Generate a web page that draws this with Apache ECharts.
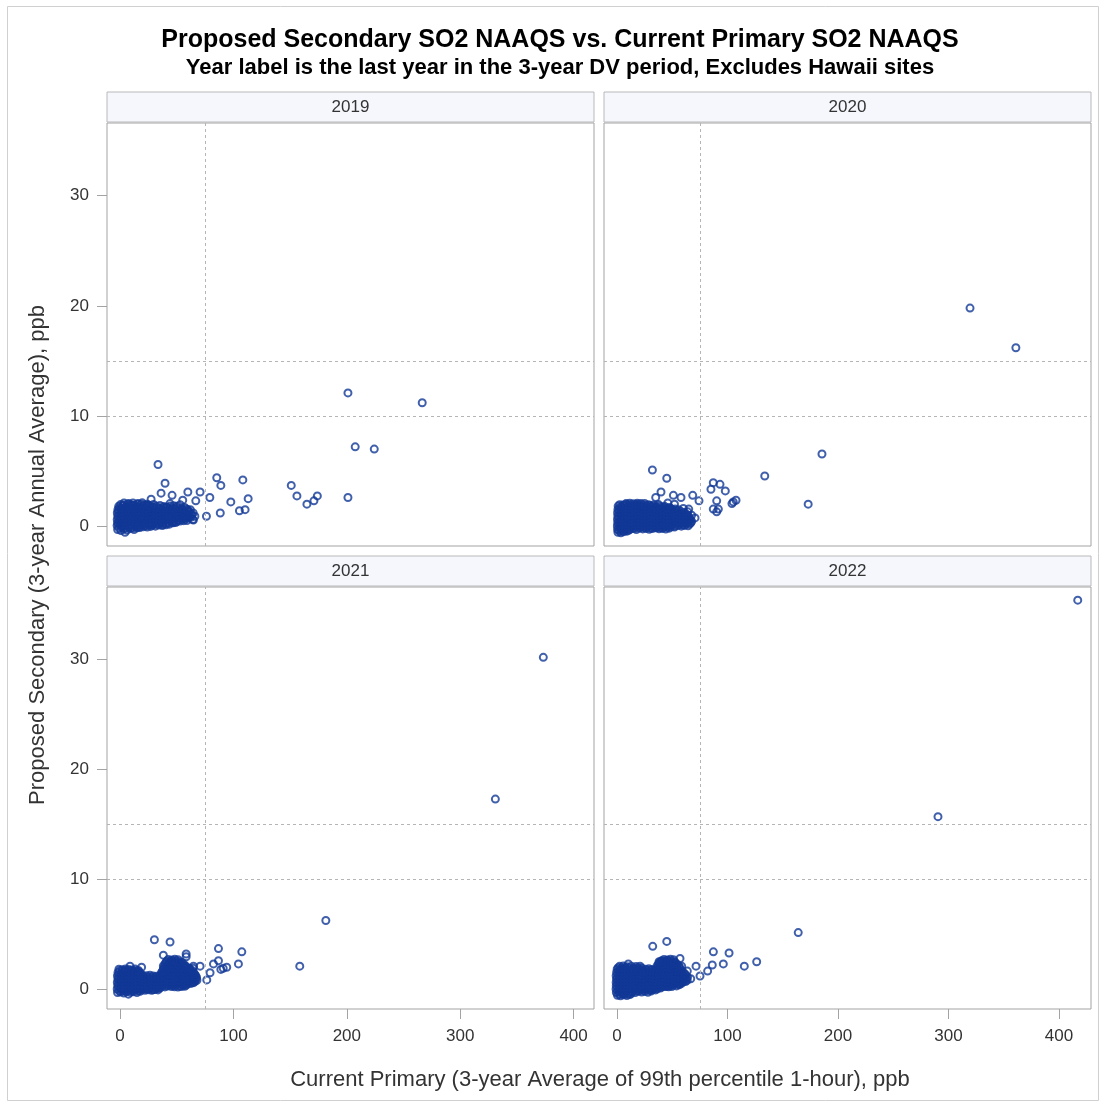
<!DOCTYPE html>
<html>
<head>
<meta charset="utf-8">
<script src="https://cdn.jsdelivr.net/npm/echarts@6/dist/echarts.min.js"></script>
<style>html,body{margin:0;padding:0;background:#fff}#chart{width:1106px;height:1108px}</style>
</head>
<body>
<div id="chart"></div>
<script>
var years = ['2019', '2020', '2021', '2022'];
var yTicks = [0, 10, 20, 30];
var xTicks = [0, 100, 200, 300, 400];
var refX = 75;
var refY = [10, 15];

var cluster2019 = [
[-2.1,-0.3],[0.8,-0.4],[3.2,-0.25],[6.1,-0.35],[9.3,-0.2],[12.4,-0.3],[15.2,-0.15],[4.4,-0.55],
[-2.6,0.05],[0.2,0.1],[2.7,-0.05],[5.4,0.05],[8.2,0],[11.1,0.1],[13.9,0.05],[16.8,-0.02],[19.7,0.1],[22.6,0.04],[25.5,0.12],[28.3,0.08],[31.2,0],[34.1,0.1],[37.3,0.05],
[-2.2,0.3],[1.1,0.36],[4.0,0.26],[7.2,0.31],[10.1,0.37],[13.3,0.28],[16.2,0.24],[19.1,0.33],[22.2,0.36],[25.3,0.29],[28.1,0.25],[31.0,0.32],[34.2,0.37],[37.1,0.3],[40.2,0.24],[43.1,0.31],[46.3,0.36],[49.0,0.33],
[-2.5,0.6],[0.6,0.66],[3.6,0.55],[6.4,0.62],[9.6,0.66],[12.5,0.58],[15.4,0.54],[18.6,0.63],[21.5,0.67],[24.4,0.6],[27.6,0.56],[30.5,0.62],[33.4,0.66],[36.6,0.59],[39.5,0.54],[42.4,0.61],[45.6,0.66],[48.5,0.6],[51.4,0.55],[54.6,0.62],[57.5,0.66],[60.2,0.72],
[-2.0,0.9],[1.2,0.95],[4.1,0.86],[7.3,0.92],[10.2,0.97],[13.1,0.88],[16.3,0.84],[19.2,0.93],[22.1,0.96],[25.2,0.9],[28.3,0.85],[31.1,0.92],[34.0,0.97],[37.2,0.89],[40.1,0.85],[43.3,0.92],[46.2,0.96],[49.1,0.9],[52.3,0.86],[55.2,0.93],[58.1,0.97],[61.3,0.9],
[-2.4,1.2],[0.7,1.25],[3.5,1.16],[6.6,1.22],[9.5,1.27],[12.6,1.18],[15.5,1.14],[18.4,1.23],[21.6,1.26],[24.5,1.2],[27.4,1.15],[30.6,1.22],[33.5,1.27],[36.4,1.19],[39.6,1.15],[42.5,1.22],[45.4,1.26],[48.6,1.2],[51.5,1.16],[54.4,1.23],[57.6,1.27],[61.0,1.3],
[-1.9,1.5],[1.0,1.55],[4.2,1.46],[7.1,1.52],[10.3,1.57],[13.2,1.48],[16.1,1.44],[19.3,1.53],[22.3,1.56],[25.1,1.5],[28.2,1.45],[31.3,1.52],[34.3,1.57],[37.0,1.49],[40.3,1.45],[43.2,1.52],[46.1,1.56],[49.3,1.5],[52.2,1.46],[55.1,1.53],[58.3,1.57],
[-1.2,1.8],[2.0,1.85],[5.1,1.76],[8.3,1.82],[11.2,1.87],[14.0,1.78],[17.3,1.74],[20.2,1.83],[23.1,1.86],[26.3,1.8],[29.2,1.75],[32.1,1.82],[35.3,1.87],[38.2,1.79],[41.1,1.75],[44.3,1.82],[47.2,1.86],[50.1,1.8],
[3.5,2.1],[7.6,2.05],[11.4,2.1],[15.8,2.06],[19.6,2.12],[24,2.0],[44,2.05],[53,1.95],[57,1.7],[62,1.5],[64.5,1.2],[66,0.9]
];
var fill2019 = [
[-1.0,-0.15],[2.0,-0.12],[5.0,-0.18],[8.0,-0.1],[11.0,-0.15],[14.0,-0.08],[17.5,-0.12],[20.5,-0.05],[24.0,-0.08],[27.0,-0.02],
[-1.2,0.18],[1.8,0.14],[4.7,0.2],[7.7,0.15],[10.6,0.12],[13.7,0.19],[16.6,0.16],[19.6,0.12],[22.6,0.2],[25.7,0.16],[28.6,0.13],[31.6,0.18],[34.6,0.22],[37.7,0.15],[40.6,0.12],[43.6,0.18],
[-1.0,0.45],[2.1,0.48],[5.0,0.42],[8.0,0.47],[11.1,0.44],[14.0,0.4],[17.0,0.46],[20.0,0.5],[23.0,0.43],[26.1,0.4],[29.0,0.47],[32.0,0.5],[35.1,0.44],[38.0,0.4],[41.0,0.46],[44.1,0.49],[47.0,0.43],[50.1,0.42],[53.0,0.47],[56.1,0.5],[59.0,0.52],
[-1.1,0.76],[1.9,0.73],[4.9,0.79],[7.9,0.75],[10.9,0.71],[13.9,0.78],[16.9,0.8],[19.9,0.73],[22.9,0.7],[25.9,0.77],[28.9,0.8],[31.9,0.74],[34.9,0.71],[37.9,0.78],[40.9,0.8],[43.9,0.73],[46.9,0.7],[49.9,0.77],[52.9,0.8],[55.9,0.74],[58.9,0.78],[62.5,0.8],
[-0.9,1.06],[2.2,1.03],[5.2,1.09],[8.2,1.05],[11.2,1.01],[14.2,1.08],[17.2,1.1],[20.2,1.03],[23.2,1.0],[26.2,1.07],[29.2,1.1],[32.2,1.04],[35.2,1.01],[38.2,1.08],[41.2,1.1],[44.2,1.03],[47.2,1.0],[50.2,1.07],[53.2,1.1],[56.2,1.04],[59.2,1.08],[62.8,1.1],
[-1.2,1.36],[1.8,1.33],[4.8,1.39],[7.8,1.35],[10.8,1.31],[13.8,1.38],[16.8,1.4],[19.8,1.33],[22.8,1.3],[25.8,1.37],[28.8,1.4],[31.8,1.34],[34.8,1.31],[37.8,1.38],[40.8,1.4],[43.8,1.33],[46.8,1.3],[49.8,1.37],[52.8,1.4],[55.8,1.34],[59.5,1.38],
[-0.6,1.66],[2.5,1.63],[5.5,1.69],[8.5,1.65],[11.5,1.61],[14.5,1.68],[17.5,1.7],[20.5,1.63],[23.5,1.6],[26.5,1.67],[29.5,1.7],[32.5,1.64],[35.5,1.61],[38.5,1.68],[41.5,1.7],[44.5,1.63],[47.5,1.6],[50.5,1.67],[53.5,1.62],
[0.5,1.96],[3.8,1.93],[6.8,1.99],[9.8,1.95],[12.8,1.91],[15.8,1.98],[18.8,2.0],[21.8,1.93],[25.5,1.9],[29.5,1.97]
];
var outliers2019 = [
[33.5,5.6],[39.7,3.9],[36.2,3.0],[45.9,2.8],[59.8,3.1],[70.6,3.1],[66.8,2.3],[79.2,2.6],[85.3,4.4],[88.9,3.7],
[108.3,4.2],[97.7,2.2],[113,2.5],[105.3,1.4],[110.3,1.5],[88.4,1.2],[76.2,0.9],[64.2,0.6],[151,3.7],[156,2.75],
[164.8,2.0],[171,2.3],[174,2.75],[201,2.6],[207.4,7.2],[224.2,7.0],[201,12.1],[266.5,11.2],[27.4,2.45],[55.3,2.36],
[59.8,1.5],[64.7,0.55],[47,0.3],[63.3,1.0]
];

var cluster2020 = [
[0.8,-0.55],[3.5,-0.6],[6.2,-0.5],[9.0,-0.45],
[0.5,-0.3],[3.2,-0.25],[6.0,-0.32],[8.9,-0.2],[11.8,-0.28],[14.6,-0.22],[17.5,-0.3],[20.4,-0.18],[23.3,-0.25],[26.2,-0.2],[29.1,-0.28],[32.0,-0.22],[35.1,-0.15],[38.0,-0.24],[41.2,-0.2],[44.1,-0.26],[47.3,-0.18],
[0.3,0.02],[3.1,0.06],[5.9,-0.02],[8.8,0.08],[11.6,0.03],[14.5,0.07],[17.3,-0.01],[20.2,0.05],[23.1,0.09],[26.0,0.02],[28.9,0.06],[31.8,0.0],[34.7,0.08],[37.6,0.03],[40.5,0.07],[43.4,0.01],[46.3,0.05],[49.2,0.09],[52.1,0.02],[55.0,0.06],[58.2,0.0],[61.1,0.07],[64.3,0.04],
[0.6,0.32],[3.4,0.28],[6.3,0.35],[9.1,0.3],[12.0,0.26],[14.9,0.33],[17.8,0.36],[20.6,0.29],[23.5,0.25],[26.4,0.32],[29.3,0.37],[32.2,0.3],[35.0,0.27],[37.9,0.34],[40.8,0.36],[43.7,0.29],[46.6,0.26],[49.5,0.33],[52.4,0.37],[55.3,0.3],[58.1,0.26],[61.0,0.33],[63.9,0.36],[66.8,0.31],
[0.4,0.62],[3.3,0.58],[6.1,0.65],[9.0,0.6],[11.9,0.56],[14.7,0.63],[17.6,0.66],[20.5,0.59],[23.4,0.55],[26.3,0.62],[29.1,0.67],[32.0,0.6],[34.9,0.57],[37.8,0.64],[40.7,0.66],[43.5,0.59],[46.4,0.56],[49.3,0.63],[52.2,0.67],[55.1,0.6],[58.0,0.56],[60.9,0.63],[63.7,0.66],[66.5,0.6],
[0.7,0.92],[3.6,0.88],[6.4,0.95],[9.3,0.9],[12.2,0.86],[15.0,0.93],[17.9,0.96],[20.8,0.89],[23.7,0.85],[26.6,0.92],[29.4,0.97],[32.3,0.9],[35.2,0.87],[38.1,0.94],[41.0,0.96],[43.8,0.89],[46.7,0.86],[49.6,0.93],[52.5,0.97],[55.4,0.9],[58.3,0.86],[61.2,0.93],[64.0,0.96],
[0.5,1.22],[3.4,1.18],[6.2,1.25],[9.1,1.2],[12.0,1.16],[14.8,1.23],[17.7,1.26],[20.6,1.19],[23.5,1.15],[26.4,1.22],[29.2,1.27],[32.1,1.2],[35.0,1.17],[37.9,1.24],[40.8,1.26],[43.6,1.19],[46.5,1.16],[49.4,1.23],[52.3,1.27],[55.2,1.2],[58.1,1.16],[61.0,1.23],
[0.8,1.52],[3.7,1.48],[6.5,1.55],[9.4,1.5],[12.3,1.46],[15.1,1.53],[18.0,1.56],[20.9,1.49],[23.8,1.45],[26.7,1.52],[29.5,1.57],[32.4,1.5],[35.3,1.47],[38.2,1.54],[41.1,1.56],[43.9,1.49],[46.8,1.46],[49.7,1.53],[52.6,1.57],[55.5,1.5],
[1.0,1.82],[3.9,1.78],[6.7,1.85],[9.6,1.8],[12.5,1.76],[15.3,1.83],[18.2,1.86],[21.1,1.79],[24.0,1.75],[26.9,1.82],[29.7,1.87],[32.6,1.8],[35.5,1.77],[38.4,1.84],[43.0,1.8],[47.5,1.7],
[8.2,2.05],[11.5,2.08],[14.8,2.04],[18.2,2.07],[21.6,2.05],[25.0,2.06],[46,2.1],[52,2.0],[60,1.6],[64,1.3],[67.5,1.0]
];
var fill2020 = [
[2.0,-0.42],[4.8,-0.45],[7.6,-0.4],[10.5,-0.38],
[1.9,-0.14],[4.6,-0.1],[7.5,-0.17],[10.3,-0.12],[13.2,-0.08],[16.0,-0.15],[18.9,-0.1],[21.8,-0.06],[24.7,-0.13],[27.6,-0.09],[30.5,-0.15],[33.5,-0.07],[36.5,-0.1],[39.6,-0.12],[42.6,-0.08],[45.7,-0.1],[48.8,-0.05],[52.0,-0.08],
[1.7,0.17],[4.5,0.14],[7.4,0.2],[10.2,0.16],[13.1,0.12],[15.9,0.19],[18.8,0.21],[21.6,0.14],[24.5,0.11],[27.4,0.18],[30.3,0.21],[33.2,0.15],[36.1,0.12],[39.0,0.19],[41.9,0.21],[44.8,0.14],[47.7,0.11],[50.6,0.18],[53.5,0.21],[56.5,0.15],[59.6,0.12],[62.6,0.19],[65.6,0.2],
[1.9,0.47],[4.8,0.44],[7.6,0.5],[10.5,0.46],[13.4,0.42],[16.2,0.49],[19.1,0.51],[22.0,0.44],[24.9,0.41],[27.7,0.48],[30.6,0.51],[33.5,0.45],[36.4,0.42],[39.2,0.49],[42.1,0.51],[45.0,0.44],[47.9,0.41],[50.7,0.48],[53.6,0.51],[56.5,0.45],[59.4,0.42],[62.3,0.49],[65.2,0.51],[67.5,0.45],
[1.8,0.77],[4.7,0.74],[7.5,0.8],[10.4,0.76],[13.3,0.72],[16.1,0.79],[19.0,0.81],[21.9,0.74],[24.8,0.71],[27.6,0.78],[30.5,0.81],[33.4,0.75],[36.3,0.72],[39.1,0.79],[42.0,0.81],[44.9,0.74],[47.8,0.71],[50.6,0.78],[53.5,0.81],[56.4,0.75],[59.3,0.72],[62.2,0.79],[65.4,0.8],
[2.1,1.07],[5.0,1.04],[7.8,1.1],[10.7,1.06],[13.6,1.02],[16.4,1.09],[19.3,1.11],[22.2,1.04],[25.1,1.01],[27.9,1.08],[30.8,1.11],[33.7,1.05],[36.6,1.02],[39.4,1.09],[42.3,1.11],[45.2,1.04],[48.1,1.01],[50.9,1.08],[53.8,1.11],[56.7,1.05],[59.6,1.02],[62.8,1.09],
[1.9,1.37],[4.8,1.34],[7.6,1.4],[10.5,1.36],[13.4,1.32],[16.2,1.39],[19.1,1.41],[22.0,1.34],[24.9,1.31],[27.7,1.38],[30.6,1.41],[33.5,1.35],[36.4,1.32],[39.2,1.39],[42.1,1.41],[45.0,1.34],[47.9,1.31],[50.7,1.38],[53.6,1.41],[57.5,1.35],
[2.2,1.67],[5.1,1.64],[7.9,1.7],[10.8,1.66],[13.7,1.62],[16.5,1.69],[19.4,1.71],[22.3,1.64],[25.2,1.61],[28.0,1.68],[30.9,1.71],[33.8,1.65],[36.7,1.62],[39.5,1.69],[42.4,1.71],[45.3,1.64],[48.5,1.6],
[2.4,1.95],[5.3,1.93],[8.1,1.97],[11.0,1.94],[13.9,1.9],[16.7,1.96],[19.6,1.98],[22.5,1.92],[25.4,1.9],[28.5,1.95],[33.0,1.92],[37.5,1.96]
];
var outliers2020 = [
[319.5,19.8],[361,16.2],[185.5,6.55],[173,2.0],[133.7,4.55],[107.7,2.35],[105.2,2.2],[104,2.05],[98,3.2],[93.2,3.8],
[87.1,3.95],[85,3.35],[90.2,2.3],[87.1,1.55],[91.7,1.55],[90.2,1.3],[74.2,2.3],[68.5,2.8],[57.9,2.6],[51,2.8],
[35,2.6],[39.8,3.1],[45,4.35],[32,5.1],[63.6,0.7],[70.6,0.75],[64.9,1.55]
];

var cluster2021 = [
[-2.2,-0.3],[0.6,-0.25],[3.4,-0.35],[6.3,-0.2],[9.1,-0.28],[12.0,-0.22],[14.9,-0.3],[17.7,-0.18],[7.4,-0.45],
[-2.5,0.02],[0.4,0.06],[3.2,-0.02],[6.1,0.08],[8.9,0.03],[11.8,0.07],[14.7,-0.01],[17.5,0.05],[20.4,0.09],[23.3,0.02],[26.1,0.06],[29.0,-0.05],[31.9,0.04],[34.8,0.08],
[-2.0,0.32],[0.9,0.28],[3.7,0.35],[6.6,0.3],[9.5,0.26],[12.3,0.33],[15.2,0.36],[18.1,0.29],[21.0,0.25],[23.8,0.32],[26.7,0.37],[29.6,0.3],[32.5,0.27],[35.3,0.34],[38.2,0.36],[41.1,0.3],[44.0,0.45],[46.8,0.33],[49.7,0.37],[52.6,0.3],[55.5,0.34],[58.3,0.36],
[-2.4,0.62],[0.5,0.58],[3.3,0.65],[6.2,0.6],[9.1,0.56],[11.9,0.63],[14.8,0.66],[17.7,0.59],[20.6,0.55],[23.4,0.62],[26.3,0.67],[29.2,0.6],[32.1,0.57],[34.9,0.64],[37.8,0.66],[40.7,0.59],[43.6,0.56],[46.4,0.63],[49.3,0.67],[52.2,0.6],[55.1,0.56],[57.9,0.63],[60.8,0.66],[63.7,0.6],[66.2,0.72],
[-1.9,0.92],[1.0,0.88],[3.8,0.95],[6.7,0.9],[9.6,0.86],[12.4,0.93],[15.3,0.96],[18.2,0.89],[21.1,0.85],[23.9,0.92],[26.8,0.97],[29.7,0.9],[32.6,0.87],[35.4,0.94],[38.3,0.96],[41.2,0.89],[44.1,0.86],[46.9,0.93],[49.8,0.97],[52.7,0.9],[55.6,0.86],[58.4,0.93],[61.3,0.96],[64.2,0.9],[67.0,0.95],
[-2.3,1.22],[0.6,1.18],[3.4,1.25],[6.3,1.2],[9.2,1.16],[12.0,1.23],[14.9,1.26],[17.8,1.19],[20.7,1.15],[23.5,1.22],[26.4,1.27],[29.3,1.2],[32.2,1.17],[35.0,1.24],[37.9,1.26],[40.8,1.19],[43.7,1.16],[46.5,1.23],[49.4,1.27],[52.3,1.2],[55.2,1.16],[58.0,1.23],[60.9,1.26],[63.8,1.19],[66.5,1.25],
[-1.8,1.52],[1.1,1.48],[3.9,1.55],[6.8,1.5],[9.7,1.46],[12.5,1.53],[15.4,1.56],[18.3,1.4],[36.5,1.5],[39.4,1.56],[42.3,1.49],[45.1,1.46],[48.0,1.53],[50.9,1.57],[53.8,1.5],[56.6,1.46],[59.5,1.53],[62.4,1.56],[65.0,1.5],
[-1.0,1.82],[1.9,1.78],[4.7,1.85],[7.6,1.8],[10.5,1.76],[13.3,1.83],[16.2,1.7],[38.4,1.82],[41.3,1.86],[44.2,1.79],[47.0,1.76],[49.9,1.83],[52.8,1.87],[55.7,1.8],[58.5,1.76],[61.4,1.83],[64.5,1.9],
[38.2,2.12],[41.1,2.08],[44.0,2.15],[46.8,2.1],[49.7,2.06],[52.6,2.13],[55.5,2.16],[58.0,2.1],
[40.3,2.42],[43.2,2.38],[46.1,2.45],[48.9,2.4],[51.8,2.36],[54.7,2.43],
[42.5,2.7],[45.4,2.66],[48.3,2.73],[51.1,2.68]
];
var fill2021 = [
[-0.8,-0.15],[2.0,-0.12],[4.9,-0.18],[7.7,-0.1],[10.6,-0.14],[13.4,-0.08],[16.3,-0.13],[19.2,-0.06],[22.0,-0.1],[24.9,-0.05],[27.8,-0.09],[30.6,-0.03],[33.5,-0.06],
[-1.0,0.17],[1.9,0.14],[4.7,0.2],[7.6,0.16],[10.4,0.12],[13.3,0.19],[16.1,0.21],[19.0,0.14],[21.9,0.11],[24.7,0.18],[27.6,0.21],[30.5,0.15],[33.4,0.12],[36.3,0.19],[39.6,0.21],[42.5,0.3],[45.4,0.25],[48.2,0.22],[51.1,0.2],[54.0,0.24],[57.0,0.26],
[-1.1,0.47],[1.8,0.44],[4.6,0.5],[7.5,0.46],[10.4,0.42],[13.2,0.49],[16.1,0.51],[19.0,0.44],[21.9,0.41],[24.7,0.48],[27.6,0.51],[30.5,0.45],[33.4,0.42],[36.2,0.49],[39.1,0.51],[42.0,0.44],[44.9,0.41],[47.7,0.48],[50.6,0.51],[53.5,0.45],[56.4,0.42],[59.2,0.49],[62.1,0.51],[65.0,0.6],
[-0.9,0.77],[2.0,0.74],[4.8,0.8],[7.7,0.76],[10.6,0.72],[13.4,0.79],[16.3,0.81],[19.2,0.74],[22.1,0.71],[24.9,0.78],[27.8,0.81],[30.7,0.75],[33.6,0.72],[36.4,0.79],[39.3,0.81],[42.2,0.74],[45.1,0.71],[47.9,0.78],[50.8,0.81],[53.7,0.75],[56.6,0.72],[59.4,0.79],[62.3,0.81],[65.2,0.75],[67.8,0.82],
[-1.2,1.07],[1.7,1.04],[4.5,1.1],[7.4,1.06],[10.3,1.02],[13.1,1.09],[16.0,1.11],[18.9,1.04],[21.8,1.01],[24.6,1.08],[27.5,1.11],[30.4,1.05],[33.3,1.02],[36.1,1.09],[39.0,1.11],[41.9,1.04],[44.8,1.01],[47.6,1.08],[50.5,1.11],[53.4,1.05],[56.3,1.02],[59.1,1.09],[62.0,1.11],[64.9,1.04],[67.5,1.1],
[-0.9,1.37],[2.0,1.34],[4.8,1.4],[7.7,1.36],[10.6,1.32],[13.4,1.39],[16.3,1.41],[19.5,1.3],[37.4,1.37],[40.3,1.4],[43.2,1.34],[46.0,1.31],[48.9,1.38],[51.8,1.41],[54.7,1.35],[57.5,1.32],[60.4,1.39],[63.3,1.41],[66.0,1.35],
[-0.5,1.67],[2.4,1.64],[5.2,1.7],[8.1,1.66],[11.0,1.62],[13.8,1.69],[16.8,1.6],[37.5,1.67],[40.4,1.7],[43.3,1.64],[46.1,1.61],[49.0,1.68],[51.9,1.71],[54.8,1.65],[57.6,1.62],[60.5,1.69],[63.5,1.7],
[38.8,1.97],[41.7,1.94],[44.5,2.0],[47.4,1.96],[50.3,1.92],[53.1,1.99],[56.0,2.01],[59.0,1.95],[61.2,1.9],
[39.6,2.27],[42.5,2.24],[45.3,2.3],[48.2,2.26],[51.1,2.22],[53.9,2.29],[56.5,2.25],
[41.2,2.55],[44.1,2.52],[46.9,2.58],[49.8,2.54],[52.7,2.5]
];
var outliers2021 = [
[373.3,30.2],[331,17.3],[181.5,6.25],[158.5,2.1],[30.3,4.5],[44.1,4.3],[38.2,3.1],[58.3,3.2],[58.3,2.95],[86.8,3.7],
[107.4,3.4],[104.4,2.3],[86.8,2.6],[82.4,2.3],[88.9,1.8],[94.1,2.0],[91,1.9],[70.6,2.1],[64.7,2.1],[79.4,1.5],
[76.5,0.85],[66.2,1.15],[8.8,2.1],[19,2.0],[44,0.45]
];

var cluster2022 = [
[0.4,-0.55],[3.2,-0.6],[6.0,-0.5],[8.9,-0.58],[11.7,-0.48],
[-0.6,-0.3],[2.2,-0.25],[5.1,-0.32],[7.9,-0.2],[10.8,-0.28],[13.7,-0.22],[16.5,-0.3],[19.4,-0.18],[22.3,-0.25],[25.2,-0.2],[28.0,-0.28],[30.9,-0.16],
[-0.9,0.02],[2.0,0.06],[4.8,-0.02],[7.7,0.08],[10.6,0.03],[13.4,0.07],[16.3,-0.01],[19.2,0.05],[22.1,0.09],[24.9,0.02],[27.8,0.06],[30.7,0.0],[33.6,0.08],[36.4,0.03],[39.3,0.1],
[-0.7,0.32],[2.2,0.28],[5.0,0.35],[7.9,0.3],[10.8,0.26],[13.6,0.33],[16.5,0.36],[19.4,0.29],[22.3,0.25],[25.1,0.32],[28.0,0.37],[30.9,0.3],[33.8,0.27],[36.6,0.34],[39.5,0.36],[42.4,0.29],[45.3,0.26],[48.1,0.33],[51.0,0.37],[53.9,0.3],[56.2,0.4],
[-0.8,0.62],[2.1,0.58],[4.9,0.65],[7.8,0.6],[10.7,0.56],[13.5,0.63],[16.4,0.66],[19.3,0.59],[22.2,0.55],[25.0,0.62],[27.9,0.67],[30.8,0.6],[33.7,0.57],[36.5,0.64],[39.4,0.66],[42.3,0.59],[45.2,0.56],[48.0,0.63],[50.9,0.67],[53.8,0.6],[56.7,0.56],[59.5,0.63],[62.0,0.7],
[-0.5,0.92],[2.4,0.88],[5.2,0.95],[8.1,0.9],[11.0,0.86],[13.8,0.93],[16.7,0.96],[19.6,0.89],[22.5,0.85],[25.3,0.92],[28.2,0.97],[31.1,0.9],[34.0,0.87],[36.8,0.94],[39.7,0.96],[42.6,0.89],[45.5,0.86],[48.3,0.93],[51.2,0.97],[54.1,0.9],[57.0,0.86],[59.8,0.93],[62.7,0.96],
[-0.8,1.22],[2.1,1.18],[4.9,1.25],[7.8,1.2],[10.7,1.16],[13.5,1.23],[16.4,1.26],[19.3,1.19],[22.2,1.15],[25.0,1.22],[27.9,1.27],[30.8,1.2],[33.7,1.17],[36.5,1.24],[39.4,1.26],[42.3,1.19],[45.2,1.16],[48.0,1.23],[50.9,1.27],[53.8,1.2],[56.7,1.16],[59.5,1.23],[62.4,1.26],
[-0.4,1.52],[2.5,1.48],[5.3,1.55],[8.2,1.5],[11.1,1.46],[13.9,1.53],[16.8,1.56],[19.7,1.49],[22.6,1.45],[25.4,1.52],[28.3,1.57],[31.2,1.5],[34.1,1.47],[36.9,1.54],[39.8,1.56],[42.7,1.49],[45.6,1.46],[48.4,1.53],[51.3,1.57],[54.2,1.5],[57.1,1.46],[59.9,1.53],
[0.1,1.82],[3.0,1.78],[5.8,1.85],[8.7,1.8],[11.6,1.76],[14.4,1.83],[17.3,1.86],[20.2,1.79],[23.1,1.75],[25.9,1.82],[28.8,1.87],[31.7,1.8],[34.6,1.77],[37.4,1.84],[40.3,1.86],[43.2,1.79],[46.1,1.76],[48.9,1.83],[51.8,1.87],[54.7,1.8],[57.5,1.76],
[2.3,2.08],[5.6,2.12],[9.0,2.05],[13.0,2.1],[17.2,2.06],[36.2,2.12],[39.1,2.08],[42.0,2.15],[44.8,2.1],[47.7,2.06],[50.6,2.13],[53.5,2.16],[56.0,2.1],
[38.4,2.42],[41.3,2.38],[44.2,2.45],[47.0,2.4],[49.9,2.36],[52.8,2.43],
[42.5,2.7],[45.4,2.66],[48.3,2.73],[51.1,2.68]
];
var fill2022 = [
[1.8,-0.45],[4.6,-0.42],[7.5,-0.4],[10.3,-0.44],[13.0,-0.38],
[0.8,-0.15],[3.6,-0.12],[6.5,-0.18],[9.3,-0.1],[12.2,-0.14],[15.1,-0.08],[17.9,-0.13],[20.8,-0.06],[23.7,-0.1],[26.5,-0.05],[29.4,-0.09],[32.3,-0.04],[35.0,-0.06],
[0.6,0.17],[3.5,0.14],[6.3,0.2],[9.2,0.16],[12.1,0.12],[14.9,0.19],[17.8,0.21],[20.7,0.14],[23.6,0.11],[26.4,0.18],[29.3,0.21],[32.2,0.15],[35.1,0.12],[37.9,0.19],[40.8,0.21],[43.8,0.25],[46.7,0.22],[49.6,0.24],
[0.5,0.47],[3.4,0.44],[6.2,0.5],[9.1,0.46],[12.0,0.42],[14.8,0.49],[17.7,0.51],[20.6,0.44],[23.5,0.41],[26.3,0.48],[29.2,0.51],[32.1,0.45],[35.0,0.42],[37.8,0.49],[40.7,0.51],[43.6,0.44],[46.5,0.41],[49.3,0.48],[52.2,0.51],[55.1,0.45],[57.8,0.5],
[0.7,0.77],[3.6,0.74],[6.4,0.8],[9.3,0.76],[12.2,0.72],[15.0,0.79],[17.9,0.81],[20.8,0.74],[23.7,0.71],[26.5,0.78],[29.4,0.81],[32.3,0.75],[35.2,0.72],[38.0,0.79],[40.9,0.81],[43.8,0.74],[46.7,0.71],[49.5,0.78],[52.4,0.81],[55.3,0.75],[58.2,0.72],[61.0,0.79],[63.5,0.8],
[0.6,1.07],[3.5,1.04],[6.3,1.1],[9.2,1.06],[12.1,1.02],[14.9,1.09],[17.8,1.11],[20.7,1.04],[23.6,1.01],[26.4,1.08],[29.3,1.11],[32.2,1.05],[35.1,1.02],[37.9,1.09],[40.8,1.11],[43.7,1.04],[46.6,1.01],[49.4,1.08],[52.3,1.11],[55.2,1.05],[58.1,1.02],[60.9,1.09],[63.8,1.1],
[0.9,1.37],[3.8,1.34],[6.6,1.4],[9.5,1.36],[12.4,1.32],[15.2,1.39],[18.1,1.41],[21.0,1.34],[23.9,1.31],[26.7,1.38],[29.6,1.41],[32.5,1.35],[35.4,1.32],[38.2,1.39],[41.1,1.41],[44.0,1.34],[46.9,1.31],[49.7,1.38],[52.6,1.41],[55.5,1.35],[58.4,1.32],[61.5,1.39],
[1.4,1.67],[4.3,1.64],[7.1,1.7],[10.0,1.66],[12.9,1.62],[15.7,1.69],[18.6,1.71],[21.5,1.64],[24.4,1.61],[27.2,1.68],[30.1,1.71],[33.0,1.65],[35.9,1.62],[38.7,1.69],[41.6,1.71],[44.5,1.64],[47.4,1.61],[50.2,1.68],[53.1,1.71],[56.0,1.65],[59.0,1.62],
[1.0,1.95],[3.9,1.92],[7.2,1.98],[11.0,1.94],[15.0,1.9],[19.5,1.96],[22.5,1.92],[36.8,1.97],[39.7,1.94],[42.5,2.0],[45.4,1.96],[48.3,1.92],[51.1,1.99],[54.0,2.01],[56.8,1.95],
[37.4,2.27],[40.3,2.24],[43.1,2.3],[46.0,2.26],[48.9,2.22],[51.7,2.29],[54.5,2.25],
[40.2,2.55],[43.1,2.52],[45.9,2.58],[48.8,2.54],[51.7,2.5]
];
var outliers2022 = [
[417,35.4],[290.5,15.7],[164,5.15],[32.3,3.9],[45,4.35],[57,2.8],[87.2,3.4],[101.4,3.3],[96.2,2.3],[115.2,2.1],
[126.4,2.5],[86.2,2.2],[82,1.65],[75.1,1.2],[71.5,2.1],[63.6,1.65],[66.7,0.95],[58.5,2.1],[40.4,2.6],[38,2.5],
[20.8,2.1],[10.2,2.3]
];

var panelData = [
  cluster2019.concat(fill2019, outliers2019),
  cluster2020.concat(fill2020, outliers2020),
  cluster2021.concat(fill2021, outliers2021),
  cluster2022.concat(fill2022, outliers2022)
];

var FONT = '"Liberation Sans", Arial, sans-serif';
var MARK = '#123896';
var gridBoxes = [
  {left: 107, top: 123, width: 487, height: 423},
  {left: 604, top: 123, width: 487, height: 423},
  {left: 107, top: 587, width: 487, height: 422},
  {left: 604, top: 587, width: 487, height: 422}
];
var xRanges = [[-11.5, 418], [-11.8, 429], [-11.5, 418], [-11.8, 429]];
var yRange = [-1.8, 36.6];

var grids = [], xAxes = [], yAxes = [], series = [], graphics = [];
for (var i = 0; i < 4; i++) {
  var g = gridBoxes[i];
  var bottomRow = i >= 2, leftCol = (i % 2 === 0);
  grids.push({left: g.left, top: g.top, width: g.width, height: g.height, show: true,
    borderColor: '#a3a3a3', borderWidth: 1, backgroundColor: '#fff'});
  xAxes.push({gridIndex: i, type: 'value', min: xRanges[i][0], max: xRanges[i][1], position: 'bottom',
    axisLine: {show: false, onZero: false}, splitLine: {show: false},
    axisTick: {show: bottomRow, length: 10, customValues: xTicks, lineStyle: {color: '#a3a3a3', width: 1}},
    axisLabel: {show: bottomRow, customValues: xTicks, fontSize: 17, color: '#333', fontFamily: FONT, margin: 19}
  });
  yAxes.push({gridIndex: i, type: 'value', min: yRange[0], max: yRange[1], position: 'left',
    axisLine: {show: false, onZero: false}, splitLine: {show: false},
    axisTick: {show: leftCol, length: 10, customValues: yTicks, lineStyle: {color: '#a3a3a3', width: 1}},
    axisLabel: {show: leftCol, customValues: yTicks, fontSize: 17, color: '#333', fontFamily: FONT, margin: 18}
  });
  var ml = [{xAxis: refX}];
  refY.forEach(function (v) { ml.push({yAxis: v}); });
  series.push({type: 'scatter', xAxisIndex: i, yAxisIndex: i, data: panelData[i],
    symbol: 'circle', symbolSize: 7, silent: true, animation: false, large: false,
    itemStyle: {color: 'rgba(0,0,0,0)', borderColor: MARK, borderWidth: 2},
    markLine: {silent: true, symbol: 'none', animation: false, label: {show: false},
      lineStyle: {color: '#b5b5b5', type: [3, 3], width: 1}, data: ml}
  });
  graphics.push({type: 'rect', shape: {x: g.left, y: g.top - 31, width: g.width, height: 30},
    style: {fill: '#f5f7fd', stroke: '#b9b9b9', lineWidth: 1}});
  graphics.push({type: 'text', x: g.left + g.width / 2, y: g.top - 16,
    style: {text: years[i], font: '17px ' + FONT, fill: '#333', align: 'center', verticalAlign: 'middle'}});
}

graphics.push({type: 'rect', shape: {x: 7.5, y: 6.5, width: 1091, height: 1094},
  style: {fill: null, stroke: '#d0d0d0', lineWidth: 1}, z: -10});
graphics.push({type: 'text', x: 560, y: 40,
  style: {text: 'Proposed Secondary SO2 NAAQS vs. Current Primary SO2 NAAQS', font: 'bold 25px ' + FONT,
    fill: '#000', align: 'center', verticalAlign: 'middle'}});
graphics.push({type: 'text', x: 560, y: 68,
  style: {text: 'Year label is the last year in the 3-year DV period, Excludes Hawaii sites', font: 'bold 22px ' + FONT,
    fill: '#000', align: 'center', verticalAlign: 'middle'}});
graphics.push({type: 'text', x: 600, y: 1080,
  style: {text: 'Current Primary (3-year Average of 99th percentile 1-hour), ppb', font: '22px ' + FONT,
    fill: '#333', align: 'center', verticalAlign: 'middle'}});
graphics.push({type: 'text', x: 38, y: 555, rotation: Math.PI / 2,
  style: {text: 'Proposed Secondary (3-year Annual Average), ppb', font: '22px ' + FONT,
    fill: '#333', align: 'center', verticalAlign: 'middle'}});

var chart = echarts.init(document.getElementById('chart'), null, {renderer: 'canvas'});
chart.setOption({
  animation: false,
  backgroundColor: '#fff',
  grid: grids, xAxis: xAxes, yAxis: yAxes, series: series,
  graphic: {elements: graphics}
});
</script>
</body>
</html>
